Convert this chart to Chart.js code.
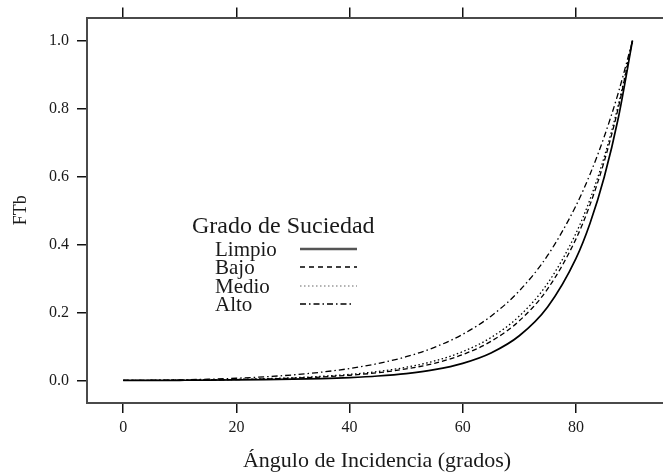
<!DOCTYPE html>
<html>
<head>
<meta charset="utf-8">
<script src="https://cdn.jsdelivr.net/npm/chart.js@4/dist/chart.umd.min.js"></script>
<style>
  html, body { margin: 0; padding: 0; background: #fff; overflow: hidden; }
  #wrap { position: absolute; left: 0; top: 0; width: 670px; height: 475px; }
</style>
</head>
<body>
<div id="wrap"><canvas id="c" width="670" height="475"></canvas></div>
<script>
// Incidence angle (degrees)
const angles = [0, 5, 10, 15, 20, 25, 30, 35, 40, 45, 50, 55, 60, 65, 70, 75, 80, 82.5, 85, 87.5, 90];

// FTb by soiling degree
const limpio = [0, 0.0001, 0.0003, 0.0006, 0.0012, 0.0021, 0.0034, 0.0053, 0.0083, 0.0129, 0.0201, 0.0316, 0.0502, 0.0807, 0.1313, 0.2160, 0.3583, 0.4625, 0.5978, 0.7731, 1.0];
const bajo   = [0, 0.0001, 0.0005, 0.0013, 0.0024, 0.0041, 0.0065, 0.0100, 0.0151, 0.0225, 0.0337, 0.0504, 0.0759, 0.1149, 0.1753, 0.2692, 0.4158, 0.5174, 0.6444, 0.8027, 1.0];
const medio  = [0, 0.0002, 0.0007, 0.0015, 0.0029, 0.0049, 0.0077, 0.0118, 0.0176, 0.0262, 0.0386, 0.0571, 0.0846, 0.1262, 0.1893, 0.2855, 0.4326, 0.5331, 0.6574, 0.8108, 1.0];
const alto   = [0, 0.0004, 0.0015, 0.0034, 0.0063, 0.0105, 0.0162, 0.0241, 0.0348, 0.0495, 0.0696, 0.0973, 0.1357, 0.1891, 0.2636, 0.3678, 0.5136, 0.6070, 0.7171, 0.8470, 1.0];

const seriesNames = ['Limpio', 'Bajo', 'Medio', 'Alto'];
const legendTitle = 'Grado de Suciedad';

const xTicks = [0, 20, 40, 60, 80];
const yTicks = [0, 0.2, 0.4, 0.6, 0.8, 1.0];

const SERIF = "'Liberation Serif', 'DejaVu Serif', serif";
const INK = '#1a1a1a';

const styles = [
  { width: 1.7, dash: [] },
  { width: 1.3, dash: [5, 3] },
  { width: 1.3, dash: [1.5, 2.5] },
  { width: 1.3, dash: [6, 3, 1.5, 3] }
];

const values = [limpio, bajo, medio, alto];
const datasets = values.map((arr, i) => ({
  label: seriesNames[i],
  data: angles.map((a, k) => ({ x: a, y: arr[k] })),
  borderColor: '#000',
  borderWidth: styles[i].width,
  borderDash: styles[i].dash,
  pointRadius: 0,
  fill: false,
  cubicInterpolationMode: 'monotone'
}));

// Key drawn inside the panel: title, names and line samples
const keyPlugin = {
  id: 'key',
  afterDraw(chart) {
    const ctx = chart.ctx;
    ctx.save();
    ctx.fillStyle = INK;
    ctx.textBaseline = 'middle';
    ctx.textAlign = 'left';
    ctx.font = '24px ' + SERIF;
    ctx.fillText(legendTitle, 192, 227);
    const rows = [250, 268, 287, 305];
    const keyStyles = [
      { color: '#555', width: 2.6, dash: [], end: 357 },
      { color: '#000', width: 1.3, dash: [5, 4], end: 357 },
      { color: '#999', width: 1.3, dash: [1.5, 2.5], end: 357 },
      { color: '#000', width: 1.3, dash: [6, 3, 1.5, 3], end: 352 }
    ];
    ctx.font = '21px ' + SERIF;
    seriesNames.forEach((name, i) => {
      ctx.fillStyle = INK;
      ctx.fillText(name, 215, rows[i]);
      const s = keyStyles[i];
      ctx.beginPath();
      ctx.setLineDash(s.dash);
      ctx.strokeStyle = s.color;
      ctx.lineWidth = s.width;
      ctx.moveTo(300, rows[i] - 1);
      ctx.lineTo(s.end, rows[i] - 1);
      ctx.stroke();
    });
    ctx.restore();
  }
};

const X_MIN = -6.4, X_MAX = 96.1;
const Y_MIN = -0.0666, Y_MAX = 1.068;

new Chart(document.getElementById('c'), {
  type: 'line',
  data: { datasets },
  plugins: [keyPlugin],
  options: {
    responsive: false,
    animation: false,
    layout: { padding: { left: 0, right: 3, top: 0, bottom: 0 } },
    plugins: { legend: { display: false }, tooltip: { enabled: false } },
    scales: {
      x: {
        type: 'linear',
        position: 'bottom',
        min: X_MIN,
        max: X_MAX,
        afterBuildTicks: s => { s.ticks = xTicks.map(v => ({ value: v })); },
        afterFit: s => { s.height = 72; },
        ticks: {
          font: { family: SERIF, size: 16 },
          color: INK,
          padding: 5,
          maxRotation: 0,
          callback: v => String(v)
        },
        grid: { drawOnChartArea: false, drawTicks: true, tickLength: 10, color: '#111', lineWidth: 1.5 },
        border: { display: true, color: '#4a4a4a', width: 2 },
        title: {
          display: true,
          text: 'Ángulo de Incidencia (grados)',
          font: { family: SERIF, size: 22 },
          color: INK,
          padding: { top: 0, bottom: 1 }
        }
      },
      xTop: {
        type: 'linear',
        position: 'top',
        min: X_MIN,
        max: X_MAX,
        afterBuildTicks: s => { s.ticks = xTicks.map(v => ({ value: v })); },
        afterFit: s => { s.height = 16; },
        ticks: { display: false },
        grid: { drawOnChartArea: false, drawTicks: true, tickLength: 10, color: '#111', lineWidth: 1.5 },
        border: { display: true, color: '#4a4a4a', width: 2 }
      },
      y: {
        type: 'linear',
        position: 'left',
        min: Y_MIN,
        max: Y_MAX,
        afterBuildTicks: s => { s.ticks = yTicks.map(v => ({ value: v })); },
        afterFit: s => { s.width = 87; },
        ticks: {
          font: { family: SERIF, size: 16 },
          color: INK,
          padding: 8,
          callback: v => Number(v).toFixed(1)
        },
        grid: { drawOnChartArea: false, drawTicks: true, tickLength: 10, color: '#111', lineWidth: 1.5 },
        border: { display: true, color: '#4a4a4a', width: 2 },
        title: {
          display: true,
          text: 'FTb',
          font: { family: SERIF, size: 18 },
          color: INK,
          padding: { top: 10, bottom: 0 }
        }
      }
    }
  }
});
</script>
</body>
</html>
